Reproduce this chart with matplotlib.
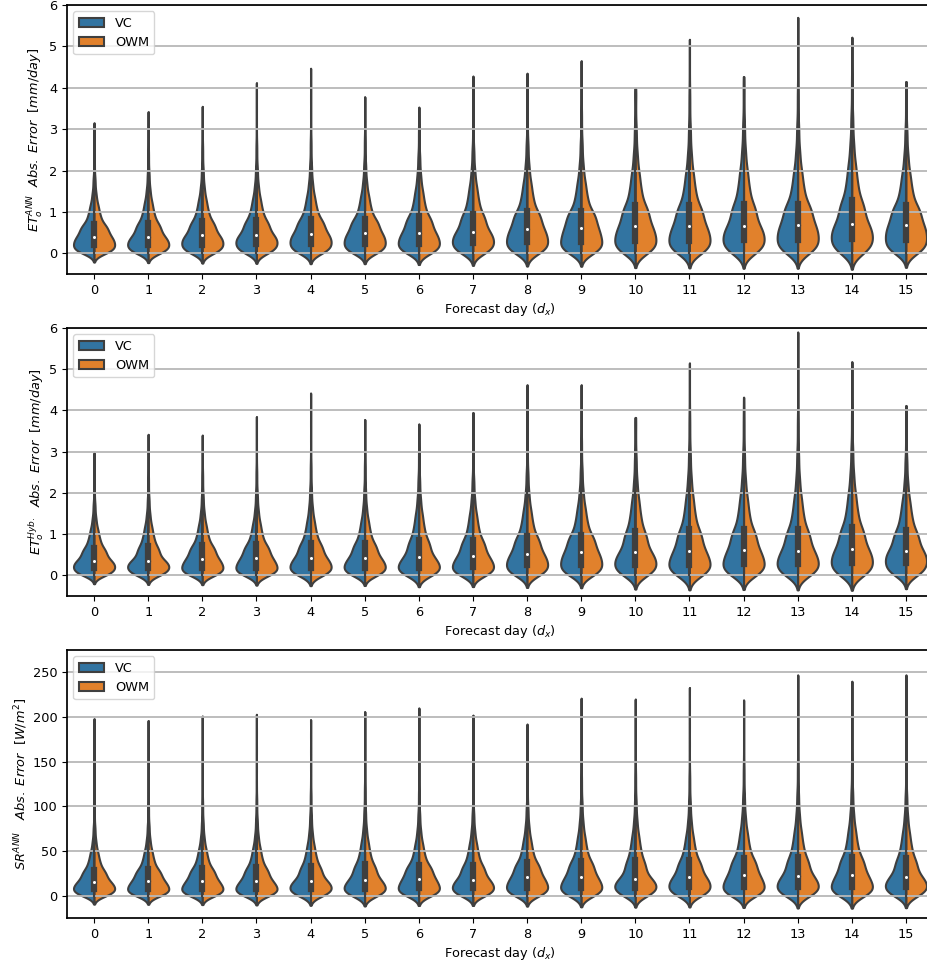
import numpy as np
import matplotlib
matplotlib.use("Agg")
import matplotlib.pyplot as plt
from matplotlib.patches import Patch

# ---------------- data ----------------
days = list(range(16))
hue_names = ["VC", "OWM"]

# Panel 1: ET_o^ANN absolute error [mm/day]  (VC and OWM halves read as equal)
etann_q1 = [0.19, 0.19, 0.21, 0.22, 0.23, 0.23, 0.23, 0.25, 0.27, 0.27, 0.30, 0.30, 0.31, 0.33, 0.34, 0.33]
etann_med = [0.40, 0.40, 0.43, 0.44, 0.47, 0.48, 0.50, 0.52, 0.58, 0.60, 0.65, 0.65, 0.65, 0.69, 0.70, 0.68]
etann_q3 = [0.70, 0.74, 0.78, 0.80, 0.83, 0.84, 0.90, 0.96, 1.02, 1.03, 1.16, 1.16, 1.20, 1.20, 1.28, 1.16]
etann_max = [3.15, 3.42, 3.55, 4.12, 4.47, 3.78, 3.53, 4.28, 4.35, 4.65, 3.86, 5.17, 4.27, 5.70, 5.22, 4.15]

# Panel 2: ET_o^Hyb. absolute error [mm/day]
ethyb_q1 = [0.18, 0.18, 0.18, 0.18, 0.19, 0.19, 0.19, 0.20, 0.24, 0.26, 0.26, 0.26, 0.27, 0.27, 0.30, 0.30]
ethyb_med = [0.36, 0.36, 0.40, 0.41, 0.42, 0.42, 0.44, 0.46, 0.52, 0.56, 0.56, 0.60, 0.61, 0.60, 0.64, 0.60]
ethyb_q3 = [0.67, 0.71, 0.73, 0.75, 0.79, 0.79, 0.87, 0.87, 0.95, 0.99, 1.08, 1.12, 1.12, 1.12, 1.18, 1.09]
ethyb_max = [2.97, 3.42, 3.40, 3.85, 4.42, 3.78, 3.67, 3.95, 4.62, 4.62, 3.83, 5.15, 4.32, 5.90, 5.18, 4.12]

# Panel 3: SR^ANN absolute error [W/m^2]
srann_q1 = [7.2, 7.2, 7.2, 7.2, 7.9, 7.9, 8.3, 8.3, 9.1, 9.1, 9.1, 9.8, 9.8, 9.8, 9.8, 9.8]
srann_med = [15.5, 16.3, 16.7, 16.7, 17.0, 18.1, 19.2, 18.1, 20.4, 21.1, 19.2, 21.1, 22.9, 21.8, 23.3, 21.1]
srann_q3 = [29.1, 29.8, 30.9, 31.7, 33.5, 35.4, 34.6, 34.6, 37.2, 39.1, 39.8, 39.8, 42.0, 42.8, 43.5, 42.0]
srann_max = [198, 196, 201, 203, 197, 206, 210, 202, 192, 221, 220, 233, 219, 247, 240, 247]

# shape of the distributions (estimated from the violin outlines)
low_level, low_frac = 0.10, 0.35
tail_levels = [0.85, 0.92, 0.96, 0.985, 0.997]
tail_iqr = [0.48, 0.98, 1.54, 2.28, 3.30]

ylabels = [r"$ET_o^{ANN}\ \ Abs.\ Error\ \ [mm/day]$",
           r"$ET_o^{Hyb.}\ \ Abs.\ Error\ \ [mm/day]$",
           r"$SR^{ANN}\ \ \ Abs.\ Error\ \ [W/m^2]$"]
xlabel = r"Forecast day ($d_x$)"

# ---------------- style ----------------
plt.rcParams["font.size"] = 9.3
colors = ["#3274a1", "#e1812c"]
gray = "#3f3f3f"
half_width = 0.38
N = 1500


def build_sample(q1, med, q3, mx):
    iqr = q3 - q1
    p = [0.0, low_level, 0.25, 0.5, 0.75] + tail_levels + [1.0]
    v = [0.0, q1 * low_frac, q1, med, q3] + [q3 + k * iqr for k in tail_iqr] + [mx]
    grid = np.linspace(0.0, 1.0, N)
    return np.interp(grid, p, v)


def kde(data, gridsize=220):
    n = len(data)
    bw = data.std(ddof=1) * n ** (-0.2)
    y = np.linspace(data.min() - 2 * bw, data.max(), gridsize)
    d = np.exp(-0.5 * ((y[:, None] - data[None, :]) / bw) ** 2).sum(axis=1)
    return y, d


fig = plt.figure(figsize=(9.28, 9.63), dpi=100)
positions = [[0.0722, 0.7155, 0.9332, 0.2793],
             [0.0722, 0.3811, 0.9332, 0.2783],
             [0.0722, 0.0467, 0.9332, 0.2783]]
panels = [(etann_q1, etann_med, etann_q3, etann_max),
          (ethyb_q1, ethyb_med, ethyb_q3, ethyb_max),
          (srann_q1, srann_med, srann_q3, srann_max)]
ylims = [(-0.5, 6), (-0.5, 6), (-25, 275)]
yticks = [np.arange(0, 7, 1), np.arange(0, 7, 1), np.arange(0, 251, 50)]

for pos, (q1s, meds, q3s, mxs), ylab, yl, yt in zip(positions, panels, ylabels, ylims, yticks):
    ax = fig.add_axes(pos)
    ax.yaxis.grid(True, color="#b8b8b8", linewidth=1.3)
    for i, day in enumerate(days):
        data = build_sample(q1s[i], meds[i], q3s[i], mxs[i])
        y, d = kde(data)
        d = d / d.max() * half_width
        ax.fill_betweenx(y, i, i - d, facecolor=colors[0], edgecolor=gray,
                         linewidth=1.5, zorder=1)
        ax.fill_betweenx(y, i, i + d, facecolor=colors[1], edgecolor=gray,
                         linewidth=1.5, zorder=1)
        a25, a50, a75 = np.percentile(data, [25, 50, 75])
        iqr = a75 - a25
        lo = max(a25 - 1.5 * iqr, data.min())
        hi = min(a75 + 1.5 * iqr, data.max())
        ax.plot([i, i], [lo, hi], color=gray, linewidth=1.5, zorder=2)
        ax.plot([i, i], [a25, a75], color=gray, linewidth=4.5, zorder=2,
                solid_capstyle="projecting")
        ax.scatter([i], [a50], s=9, color="white", edgecolor=gray,
                   linewidth=0.8, zorder=3)
    ax.set_xlim(-0.5, 15.5)
    ax.set_ylim(*yl)
    ax.set_yticks(yt)
    ax.set_xticks(days)
    ax.set_xticklabels([str(d) for d in days])
    ax.set_xlabel(xlabel, labelpad=3)
    ax.set_ylabel(ylab, labelpad=2)
    for sp in ax.spines.values():
        sp.set_linewidth(1.25)
    handles = [Patch(facecolor=c, edgecolor=gray, linewidth=1.5, label=h)
               for c, h in zip(colors, hue_names)]
    ax.legend(handles=handles, loc="upper left")

fig.savefig("out.png", dpi=100)
